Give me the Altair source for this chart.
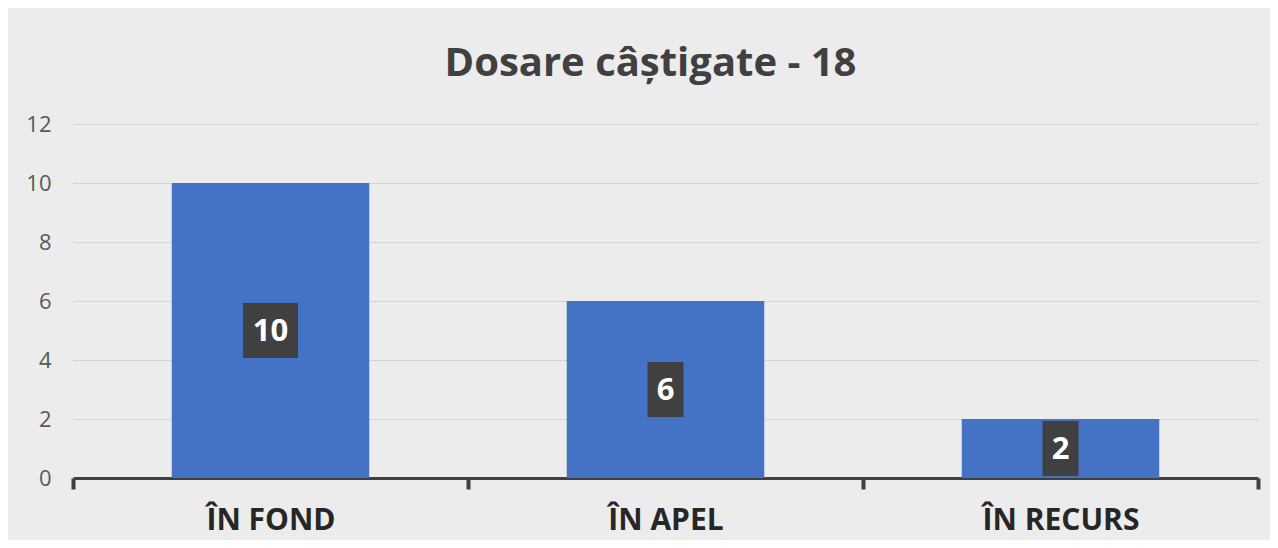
import altair as alt
import pandas as pd

categories = ["ÎN FOND", "ÎN APEL", "ÎN RECURS"]
values = [10, 6, 2]
label_texts = ["10", "6", "2"]
y_ticks = [0, 2, 4, 6, 8, 10, 12]
title_text = "Dosare câștigate - 18"

df = pd.DataFrame({
    "cat": categories,
    "val": values,
    "lab": label_texts,
})
df["mid"] = df["val"] / 2
df["lo"] = df["mid"] - 0.93
df["hi"] = df["mid"] + 0.93
df["ndig"] = [len(t) for t in label_texts]

x_scale = alt.Scale(paddingInner=0, paddingOuter=0)
y_scale = alt.Scale(domain=[0, 12], nice=False)

x_enc = alt.X("cat:N", sort=categories, title=None, scale=x_scale,
              axis=alt.Axis(labelAngle=0, labelFont="Open Sans", labelFontSize=30,
                            labelFontWeight="bold", labelColor="#262626",
                            labelPadding=16, tickBand="extent", tickSize=11,
                            tickWidth=4, tickColor="#404040", domainColor="#404040",
                            domainWidth=3, grid=False, labelBaseline="top"))

bars = alt.Chart(df).mark_bar(color="#4472C4", width={"band": 0.5}).encode(
    x=x_enc,
    y=alt.Y("val:Q", scale=y_scale, title=None,
            axis=alt.Axis(values=y_ticks, labelFont="Open Sans", labelFontSize=22,
                          labelColor="#595959", labelPadding=22, ticks=False,
                          domain=False, gridColor="#d4d4d4", gridWidth=1)),
)

box_wide = alt.Chart(df).transform_filter("datum.ndig > 1").mark_bar(
    color="#404040", width=55).encode(
    x=alt.X("cat:N", sort=categories, scale=x_scale),
    y=alt.Y("lo:Q", scale=y_scale),
    y2="hi:Q",
)

box_narrow = alt.Chart(df).transform_filter("datum.ndig == 1").mark_bar(
    color="#404040", width=36).encode(
    x=alt.X("cat:N", sort=categories, scale=x_scale),
    y=alt.Y("lo:Q", scale=y_scale),
    y2="hi:Q",
)

texts = alt.Chart(df).mark_text(color="white", font="Open Sans", fontSize=31,
                                fontWeight="bold", baseline="middle", dy=1).encode(
    x=alt.X("cat:N", sort=categories, scale=x_scale),
    y=alt.Y("mid:Q", scale=y_scale),
    text="lab:N",
)

chart = alt.layer(bars, box_wide, box_narrow, texts).properties(
    width=1185,
    height=354,
    title=alt.TitleParams(title_text, font="Open Sans", fontSize=40,
                          fontWeight="bold", color="#404040", anchor="middle",
                          offset=29, dx=-15),
    autosize=alt.AutoSizeParams(type="none"),
    padding={"left": 65, "top": 116, "right": 12, "bottom": 62},
    background="#ececec",
).configure_view(
    stroke=None,
    fill="#ececec",
)

chart.save("out.html", embed_options={"renderer": "svg", "actions": False})
